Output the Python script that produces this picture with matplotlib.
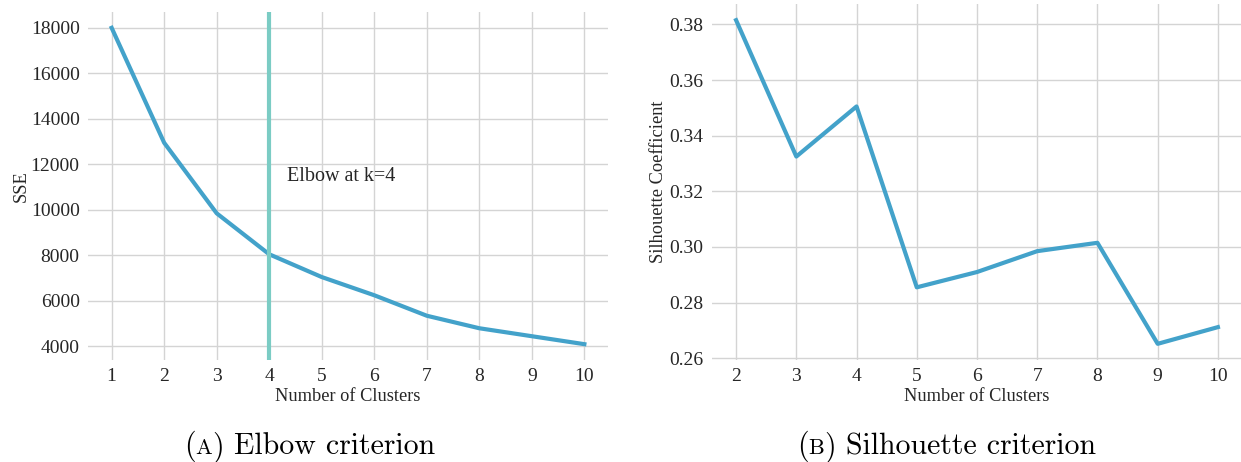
import matplotlib
matplotlib.use("Agg")
import matplotlib.pyplot as plt
from matplotlib.offsetbox import TextArea, HPacker, AnchoredOffsetbox

k_elbow = [1, 2, 3, 4, 5, 6, 7, 8, 9, 10]
sse = [18000, 12950, 9850, 8050, 7050, 6250, 5350, 4800, 4450, 4100]
k_sil = [2, 3, 4, 5, 6, 7, 8, 9, 10]
silhouette = [0.3815, 0.3325, 0.3505, 0.2855, 0.2910, 0.2985, 0.3015, 0.2652, 0.2712]
elbow_k = 4
yticks_sse = [4000, 6000, 8000, 10000, 12000, 14000, 16000, 18000]
yticks_sil = [0.26, 0.28, 0.30, 0.32, 0.34, 0.36, 0.38]
captions = [("A", "Elbow criterion"), ("B", "Silhouette criterion")]

LINE = "#43a2ca"
VLINE = "#7bccc4"
GRID = "#d4d4d4"
TXT = "#262626"
serif = ["Liberation Serif", "DejaVu Serif"]

W, H = 1241, 462
fig = plt.figure(figsize=(W / 100, H / 100), dpi=100)

def px_axes(x0, x1, y0, y1):
    return fig.add_axes([x0 / W, 1 - y1 / H, (x1 - x0) / W, (y1 - y0) / H])

def style(ax):
    for s in ax.spines.values():
        s.set_visible(False)
    ax.set_facecolor("white")
    ax.grid(True, color=GRID, linewidth=1.0)
    ax.set_axisbelow(True)
    ax.tick_params(length=0, labelsize=14, labelcolor=TXT, pad=6)
    for lab in ax.get_xticklabels() + ax.get_yticklabels():
        lab.set_family(serif)

ax1 = px_axes(88, 608, 12, 360)
ax1.plot(k_elbow, sse, color=LINE, linewidth=3)
ax1.axvline(elbow_k, color=VLINE, linewidth=3)
ax1.text(elbow_k + 0.33, 11450, "Elbow at k=%d" % elbow_k, fontsize=14.5,
         family=serif, color=TXT, va="center")
ax1.set_xticks(k_elbow)
ax1.set_yticks(yticks_sse)
ax1.set_xlabel("Number of Clusters", fontsize=13.2, family=serif, color=TXT, labelpad=2)
ax1.set_ylabel("SSE", fontsize=13.2, family=serif, color=TXT, labelpad=1)
style(ax1)

ax2 = px_axes(712, 1242, 4, 360)
ax2.plot(k_sil, silhouette, color=LINE, linewidth=3)
ax2.set_xticks(k_sil)
ax2.set_yticks(yticks_sil)
ax2.set_yticklabels(["%.2f" % v for v in yticks_sil])
ax2.set_xlabel("Number of Clusters", fontsize=13.2, family=serif, color=TXT, labelpad=2)
ax2.set_ylabel("Silhouette Coefficient", fontsize=13.2, family=serif, color=TXT, labelpad=2)
style(ax2)

cm = ["cmr10", "DejaVu Serif"]
big = dict(fontsize=21.5, family=cm, color="black")
small = dict(fontsize=16, family=cm, color="black")

def caption(letter, text, x_px, y_px):
    parts = [TextArea("(", textprops=big), TextArea(letter, textprops=small),
             TextArea(")", textprops=big), TextArea(" " + text, textprops=big)]
    box = HPacker(children=parts, align="baseline", pad=0, sep=0)
    anc = AnchoredOffsetbox(loc="center left", child=box, pad=0, borderpad=0, frameon=False,
                            bbox_to_anchor=(x_px / W, 1 - y_px / H),
                            bbox_transform=fig.transFigure)
    fig.add_artist(anc)

caption(captions[0][0], captions[0][1], 184, 447)
caption(captions[1][0], captions[1][1], 797, 447)

fig.savefig("out.png", dpi=100, facecolor="white")
